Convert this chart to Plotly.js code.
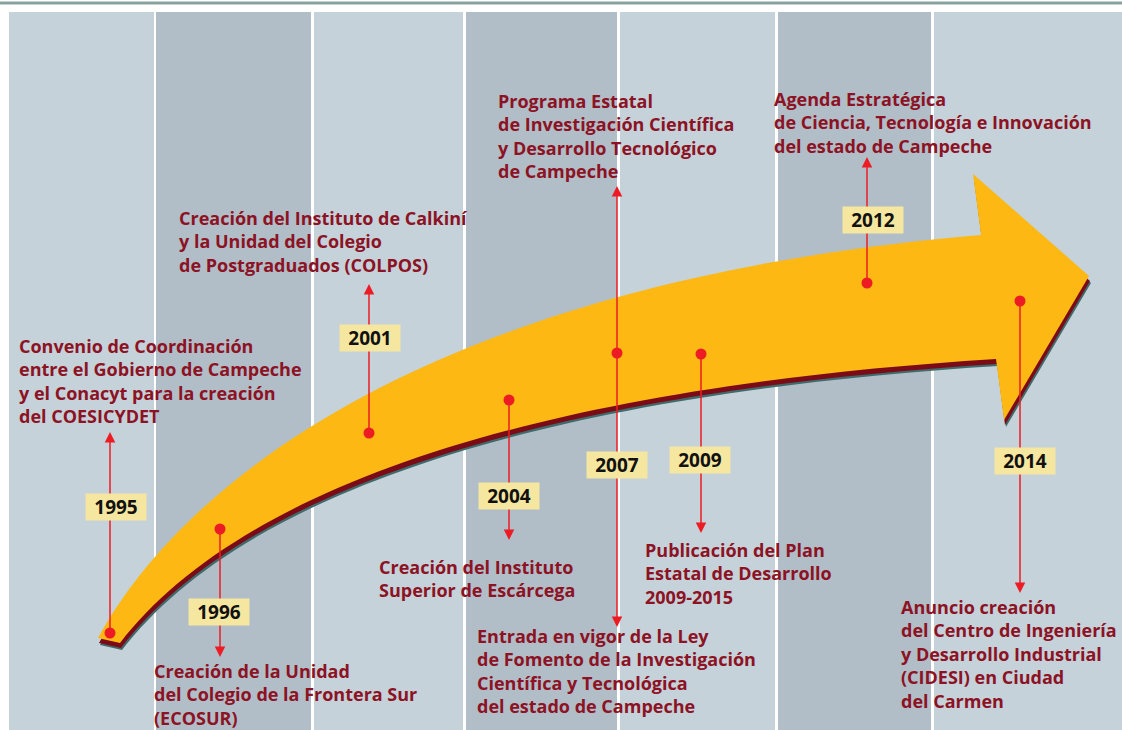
<!DOCTYPE html>
<html>
<head>
<meta charset="utf-8">
<script src="https://cdn.plot.ly/plotly-3.0.1.min.js"></script>
<style>html,body{margin:0;padding:0;background:#fff;}#chart{width:1122px;height:730px;}</style>
</head>
<body>
<div id="chart"></div>
<script>
// ---- DATA ----
const years = ['1995','1996','2001','2004','2007','2009','2012','2014'];
const eventX = [110, 220, 369, 509, 617, 701, 867, 1020];
const dotY = [633, 529, 433, 400, 353, 354, 283, 301];
const yearBoxX = [116, 219, 370, 509, 617, 700, 873, 1025];
const yearBoxY = [507, 612, 338, 496, 465, 460, 220, 461];
const arrowX = [110, 220, 369, 509, 617, 617, 701, 867, 1020];
const arrowTailY = [633, 529, 433, 400, 353, 353, 354, 283, 301];
const arrowTipY = [432, 657, 284, 540, 186, 627, 533, 157, 593];
const eventTexts = [
  'Convenio de Coordinación<br>entre el Gobierno de Campeche<br>y el Conacyt para la creación<br>del COESICYDET',
  'Creación de la Unidad<br>del Colegio de la Frontera Sur<br>(ECOSUR)',
  'Creación del Instituto de Calkiní<br>y la Unidad del Colegio<br>de Postgraduados (COLPOS)',
  'Creación del Instituto<br>Superior de Escárcega',
  'Programa Estatal<br>de Investigación Científica<br>y Desarrollo Tecnológico<br>de Campeche',
  'Entrada en vigor de la Ley<br>de Fomento de la Investigación<br>Científica y Tecnológica<br>del estado de Campeche',
  'Publicación del Plan<br>Estatal de Desarrollo<br>2009-2015',
  'Agenda Estratégica<br>de Ciencia, Tecnología e Innovación<br>del estado de Campeche',
  'Anuncio creación<br>del Centro de Ingeniería<br>y Desarrollo Industrial<br>(CIDESI) en Ciudad<br>del Carmen'
];
const textX = [18, 153, 178, 378, 497, 476, 644, 773, 900];
const textY = [381, 694, 241, 578, 136, 671, 573, 122, 654];
// background stripes (left, right)
const stripeL = [9, 156, 314, 466, 620, 778, 934];
const stripeR = [154, 311, 463, 617, 775, 931, 1122];
// big arrow outline: top edge bezier, head, bottom edge bezier
const arrowTop = [[98,638],[190,470],[450,280],[981,235]];
const arrowHead = [[973,174],[1089,276],[1004,420],[996,359]];
const arrowBottom = [[996,359],[500,390],[230,500],[120,643]];

// ---- STYLES ----
const C_LIGHT = '#c5d2da', C_DARK = '#b1bec8';
const C_YEL = '#fdb813', C_SHADOW1 = '#7b0c17', C_SHADOW2 = '#3f6b6b';
const C_RED = '#ed1c24', C_TXT = '#8c1224';
const FONT = '"Open Sans", Roboto, sans-serif';

function arrowPath(dx, dy) {
  const p = ([x, y]) => (x + dx) + ',' + (y + dy);
  return 'M' + p(arrowTop[0]) + ' C' + arrowTop.slice(1).map(p).join(' ') +
    arrowHead.map(q => ' L' + p(q)).join('') +
    ' C' + arrowBottom.slice(1).map(p).join(' ') + ' Z';
}

const shapes = [];
stripeL.forEach((l, i) => {
  shapes.push({type: 'rect', xref: 'x', yref: 'y', x0: l, x1: stripeR[i], y0: 12, y1: 730,
    fillcolor: i % 2 ? C_DARK : C_LIGHT, line: {width: 0}, layer: 'below'});
});
shapes.push({type: 'line', xref: 'x', yref: 'y', x0: 0, x1: 1122, y0: 3, y1: 3,
  line: {color: '#87a3a0', width: 3}, layer: 'below'});
shapes.push({type: 'path', xref: 'x', yref: 'y', path: arrowPath(2, 7), fillcolor: C_SHADOW2, line: {width: 0}, layer: 'below'});
shapes.push({type: 'path', xref: 'x', yref: 'y', path: arrowPath(1, 5), fillcolor: C_SHADOW1, line: {width: 0}, layer: 'below'});
shapes.push({type: 'path', xref: 'x', yref: 'y', path: arrowPath(0, 0), fillcolor: C_YEL, line: {width: 0}, layer: 'below'});

const annotations = [];
arrowX.forEach((x, i) => {
  annotations.push({x: x, y: arrowTipY[i], ax: x, ay: arrowTailY[i], axref: 'x', ayref: 'y',
    xref: 'x', yref: 'y', text: '', showarrow: true, arrowhead: 2, arrowsize: 1.4,
    arrowwidth: 1.5, arrowcolor: C_RED, standoff: 0, startstandoff: 0});
});
years.forEach((yr, i) => {
  annotations.push({x: yearBoxX[i], y: yearBoxY[i], xref: 'x', yref: 'y', text: '<b>' + yr + '</b>',
    showarrow: false, bgcolor: '#f6e7a0', width: 54, height: 20, borderpad: 3,
    font: {family: FONT, size: 19, color: '#111'}, xanchor: 'center', yanchor: 'middle'});
});
eventTexts.forEach((t, i) => {
  annotations.push({x: textX[i], y: textY[i], xref: 'x', yref: 'y',
    text: '<b>' + t.split('<br>').join('</b><br><b>') + '</b>',
    showarrow: false, align: 'left', xanchor: 'left', yanchor: 'middle', borderpad: 0,
    font: {family: FONT, size: 18, color: C_TXT}});
});

const traces = [{
  type: 'scatter', mode: 'markers', x: eventX, y: dotY,
  marker: {color: C_RED, size: 11}, hoverinfo: 'skip', showlegend: false
}];

const layout = {
  width: 1122, height: 730, margin: {l: 0, r: 0, t: 0, b: 0},
  paper_bgcolor: '#fff', plot_bgcolor: '#fff',
  xaxis: {range: [0, 1122], visible: false, fixedrange: true},
  yaxis: {range: [730, 0], visible: false, fixedrange: true},
  shapes: shapes, annotations: annotations, showlegend: false
};
Plotly.newPlot('chart', traces, layout, {displayModeBar: false, staticPlot: true});
</script>
</body>
</html>
